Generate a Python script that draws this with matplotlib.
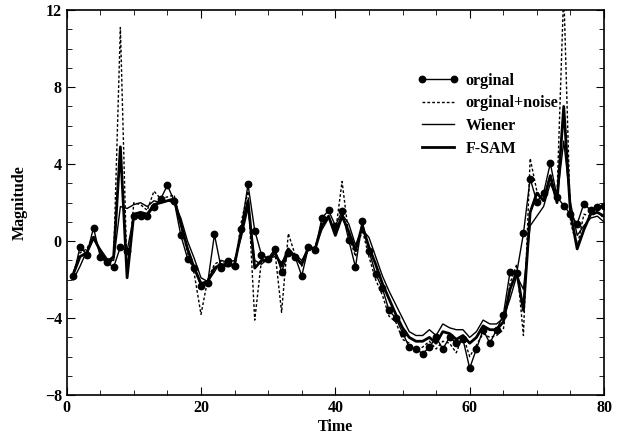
import matplotlib.pyplot as plt
from matplotlib.ticker import MultipleLocator

# Data

time = list(range(1, 81))

orginal = [-1.8, -0.3, -0.7, 0.7, -0.8, -1.1, -1.35, -0.3, -0.5, 1.3,
           1.3, 1.3, 1.8, 2.2, 2.9, 2.1, 0.3, -0.9, -1.4, -2.35,
           -2.15, 0.35, -1.4, -1.05, -1.3, 0.65, 2.95, 0.55, -0.7, -0.9,
           -0.4, -1.6, -0.6, -0.8, -1.8, -0.3, -0.45, 1.2, 1.6, 0.8,
           1.55, 0.05, -1.35, 1.05, -0.5, -1.7, -2.45, -3.6, -4.0, -4.75,
           -5.5, -5.6, -5.85, -5.5, -5.0, -5.6, -5.0, -5.3, -5.1, -6.6,
           -5.6, -4.6, -5.3, -4.6, -3.85, -1.6, -1.65, 0.4, 3.25, 2.05,
           2.5, 4.05, 2.3, 1.85, 1.4, 0.9, 1.95, 1.6, 1.8, 1.85]

noisy = [-1.6, -0.6, -0.4, 0.3, -0.6, -1.3, -0.9, 11.1, -1.9, 2.0,
         1.9, 1.6, 2.6, 2.2, 2.3, 2.4, 0.8, -0.6, -1.7, -3.8,
         -2.0, -1.2, -1.0, -1.3, -1.4, 1.0, 2.6, -4.1, -1.0, -1.1,
         -0.5, -3.7, 0.4, -0.7, -1.3, -0.4, -0.3, 1.0, 1.3, 0.4,
         3.1, 0.3, -0.8, 0.6, -0.8, -2.0, -2.8, -3.9, -4.2, -5.1,
         -5.3, -5.7, -5.5, -5.2, -5.6, -5.2, -5.3, -5.8, -4.9, -6.0,
         -5.4, -4.8, -5.0, -4.9, -4.6, -2.2, -1.2, -4.9, 4.3, 2.6,
         2.1, 3.5, 2.4, 13.0, 1.0, -0.3, 1.4, 1.3, 1.5, 1.2]

wiener = [-2.0, -1.3, -0.5, 0.1, -0.4, -0.9, -1.0, 1.8, 1.7, 1.9,
          2.0, 1.8, 2.1, 2.0, 2.1, 2.0, 1.2, 0.0, -0.9, -1.9,
          -2.1, -1.6, -1.0, -1.1, -1.0, 0.2, 1.7, -1.0, -1.2, -0.9,
          -0.8, -1.1, -0.6, -0.7, -1.0, -0.4, -0.3, 0.6, 1.2, 0.5,
          1.4, 0.9, -0.2, 0.6, 0.2, -0.8, -1.8, -2.6, -3.3, -4.0,
          -4.7, -4.9, -4.9, -4.6, -4.9, -4.3, -4.5, -4.6, -4.6, -5.0,
          -4.7, -4.1, -4.3, -4.3, -4.0, -3.0, -1.8, -2.5, 0.8, 1.3,
          1.8, 3.0, 2.2, 5.2, 2.0, 0.3, 0.8, 1.2, 1.3, 1.0]

fsam = [-1.7, -0.8, -0.6, 0.2, -0.5, -1.1, -0.8, 4.9, -1.9, 1.4,
        1.5, 1.4, 1.9, 2.0, 2.1, 2.2, 0.9, -0.4, -1.4, -2.2,
        -2.1, -1.4, -1.2, -1.3, -1.2, 0.5, 2.1, -1.4, -1.0, -1.0,
        -0.6, -1.3, -0.4, -0.8, -1.2, -0.3, -0.4, 0.8, 1.3, 0.3,
        1.3, 0.5, -0.5, 0.8, -0.3, -1.2, -2.2, -3.0, -3.8, -4.5,
        -5.0, -5.2, -5.2, -5.0, -5.3, -4.7, -4.8, -5.1, -4.9, -5.3,
        -5.0, -4.4, -4.6, -4.6, -4.2, -2.5, -1.6, -3.6, 1.5, 2.5,
        2.1, 3.4, 2.0, 7.0, 1.5, -0.4, 0.6, 1.4, 1.5, 1.3]

plt.rcParams['font.family'] = 'Liberation Serif'
plt.rcParams['font.weight'] = 'bold'
plt.rcParams['font.size'] = 11

fig = plt.figure(figsize=(6.17, 4.44), dpi=100)
ax = fig.add_axes([0.108, 0.110, 0.871, 0.867])

ax.plot(time, orginal, color='black', lw=1.0, marker='o', ms=4.6,
        label='orginal')
ax.plot(time, noisy, color='black', lw=1.0, ls=(0, (2, 1.5)),
        label='orginal+noise')
ax.plot(time, wiener, color='black', lw=1.0, label='Wiener')
ax.plot(time, fsam, color='black', lw=2.0, label='F-SAM')

ax.set_xlim(0, 80)
ax.set_ylim(-8, 12)
ax.xaxis.set_major_locator(MultipleLocator(20))
ax.xaxis.set_minor_locator(MultipleLocator(5))
ax.yaxis.set_major_locator(MultipleLocator(4))
ax.yaxis.set_minor_locator(MultipleLocator(1))
ax.tick_params(which='both', direction='in', top=True, right=True,
               labelsize=11.5)
ax.tick_params(which='major', length=6)
ax.tick_params(which='minor', length=3.5)
for s in ax.spines.values():
    s.set_linewidth(1.2)

ax.set_xlabel('Time', fontsize=11.5, fontweight='bold', labelpad=2)
ax.set_ylabel('Magnitude', fontsize=11.5, fontweight='bold', labelpad=12)

ax.legend(loc='upper left', bbox_to_anchor=(0.652, 0.838), frameon=False,
          fontsize=11.5, handlelength=2.6, handletextpad=0.45,
          labelspacing=0.42, borderpad=0, borderaxespad=0, numpoints=2)

fig.savefig('out.png', dpi=100)
